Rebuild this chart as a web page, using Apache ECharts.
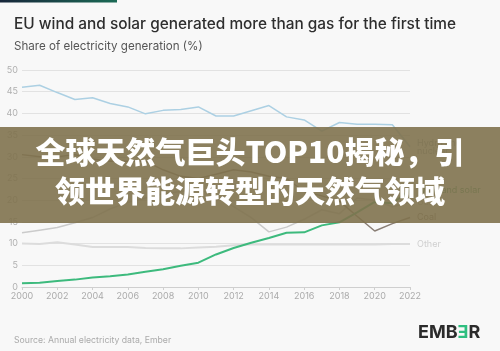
<!DOCTYPE html>
<html>
<head>
<meta charset="utf-8">
<script src="https://cdn.jsdelivr.net/npm/echarts@6/dist/echarts.min.js"></script>
<style>
html,body{margin:0;padding:0;background:#f8f8f8;}
#chart{width:500px;height:351px;}
</style>
</head>
<body>
<div id="chart"></div>
<script>
var years = ['2000','2001','2002','2003','2004','2005','2006','2007','2008','2009','2010','2011','2012','2013','2014','2015','2016','2017','2018','2019','2020','2021','2022'];
var hydroNuclear = [46.0,46.5,44.8,43.2,43.6,42.3,41.5,39.9,40.7,40.9,41.5,39.4,39.4,40.6,41.8,39.2,38.5,35.9,37.9,37.5,37.5,37.4,32.3];
var coal = [30.5,30.0,30.0,30.5,29.5,29.0,29.0,29.0,27.0,25.5,25.0,26.0,27.0,26.5,25.5,25.0,22.0,21.0,19.8,16.3,12.9,14.6,16.0];
var gas = [12.5,13.1,13.7,14.8,16.0,18.0,19.5,20.5,21.5,22.0,22.5,21.0,18.5,16.0,12.7,13.8,15.6,17.8,16.9,20.5,20.0,18.5,19.5];
var windSolar = [0.85,1.0,1.4,1.7,2.2,2.5,2.9,3.5,4.1,4.9,5.6,7.5,9.0,10.2,11.3,12.5,12.6,14.2,14.9,17.2,19.6,19.3,22.3];
var other = [10.0,9.9,10.3,9.8,9.2,9.2,9.2,9.0,8.9,8.9,9.1,9.3,9.6,9.8,9.8,9.8,9.8,9.8,9.8,9.8,9.8,9.9,9.9];

var titleText = 'EU wind and solar generated more than gas for the first time';
var subtitleText = 'Share of electricity generation (%)';
var sourceText = 'Source: Annual electricity data, Ember';
var bannerLine1 = '全球天然气巨头TOP10揭秘，引';
var bannerLine2 = '领世界能源转型的天然气领域';

function mk(name, label, data, color, width, labelColor) {
  return {
    name: name, type: 'line', data: data, symbol: 'none', smooth: false,
    lineStyle: {color: color, width: width}, itemStyle: {color: color},
    endLabel: {show: true, formatter: label, color: labelColor, fontSize: 9,
      fontFamily: 'Inter', distance: 7, lineHeight: 8},
    z: 2
  };
}

var chart = echarts.init(document.getElementById('chart'), null, {renderer: 'canvas'});
chart.setOption({
  backgroundColor: '#f8f8f8',
  animation: false,
  title: [
    {text: titleText, left: 9, top: 12, textStyle: {fontFamily: 'Inter', fontSize: 15.4, fontWeight: 500, color: '#2e2e2e'}},
    {text: subtitleText, left: 9, top: 36, textStyle: {fontFamily: 'Inter', fontSize: 11.6, fontWeight: 400, color: '#555'}},
    {text: sourceText, left: 9, top: 331, textStyle: {fontFamily: 'Inter', fontSize: 8.7, fontWeight: 400, color: '#aaa'}}
  ],
  grid: {left: 22, right: 90, top: 70, bottom: 64, containLabel: false},
  xAxis: {
    type: 'category', data: years, boundaryGap: false,
    axisLine: {lineStyle: {color: '#cfcfcf'}},
    axisTick: {show: true, interval: 1, length: 3, lineStyle: {color: '#cfcfcf'}},
    axisLabel: {interval: 1, fontSize: 9, color: '#aaa', margin: 5, fontFamily: 'Inter'},
    splitLine: {show: false}
  },
  yAxis: {
    type: 'value', min: 0, max: 50, interval: 5,
    axisLine: {show: false}, axisTick: {show: false},
    axisLabel: {fontSize: 9, color: '#b0b0b0', margin: 4, fontFamily: 'Inter'},
    splitLine: {lineStyle: {color: '#e2e2e2', width: 1}}
  },
  series: [
    mk('Other', 'Other', other, '#dcdcdc', 2, '#cfcfcf'),
    mk('Gas', 'Gas', gas, '#cbcbcb', 1.5, '#bbbbbb'),
    mk('Coal', 'Coal', coal, '#8a7f76', 1.5, '#8a7f76'),
    mk('Hydro and nuclear', 'Hydro and\nnuclear', hydroNuclear, '#acd0e3', 1.5, '#9aa6ad'),
    mk('Wind and solar', 'Wind and solar', windSolar, '#3dba7d', 2, '#3a9a66')
  ],
  graphic: [
    {type: 'rect', left: 0, top: 0, shape: {width: 117, height: 2.5}, z: 10,
      style: {fill: new echarts.graphic.LinearGradient(0, 0, 1, 0, [{offset: 0, color: '#17263a'}, {offset: 1, color: '#1b6a55'}])}},
    {type: 'rect', left: 0, top: 127, shape: {width: 500, height: 96}, z: 20,
      style: {fill: 'rgba(128,114,78,0.9)'}},
    {type: 'text', left: 'center', top: 137, z: 21,
      style: {text: bannerLine1, fill: '#ffffff', fontSize: 30, fontWeight: 900, fontFamily: '"Noto Sans CJK SC"'}},
    {type: 'text', left: 'center', top: 176, z: 21,
      style: {text: bannerLine2, fill: '#ffffff', fontSize: 30, fontWeight: 900, fontFamily: '"Noto Sans CJK SC"'}},
    {type: 'text', left: 418, top: 324, z: 21,
      style: {text: '{a|EMB}{b|Ǝ}{a|R}', rich: {
        a: {fontSize: 18, fontWeight: 'bold', fontFamily: 'Inter', fill: '#2b2b2b', color: '#2b2b2b'},
        b: {fontSize: 18, fontWeight: 'bold', fontFamily: 'Inter', fill: '#2fbf80', color: '#2fbf80'}}}}
  ]
});
</script>
</body>
</html>
